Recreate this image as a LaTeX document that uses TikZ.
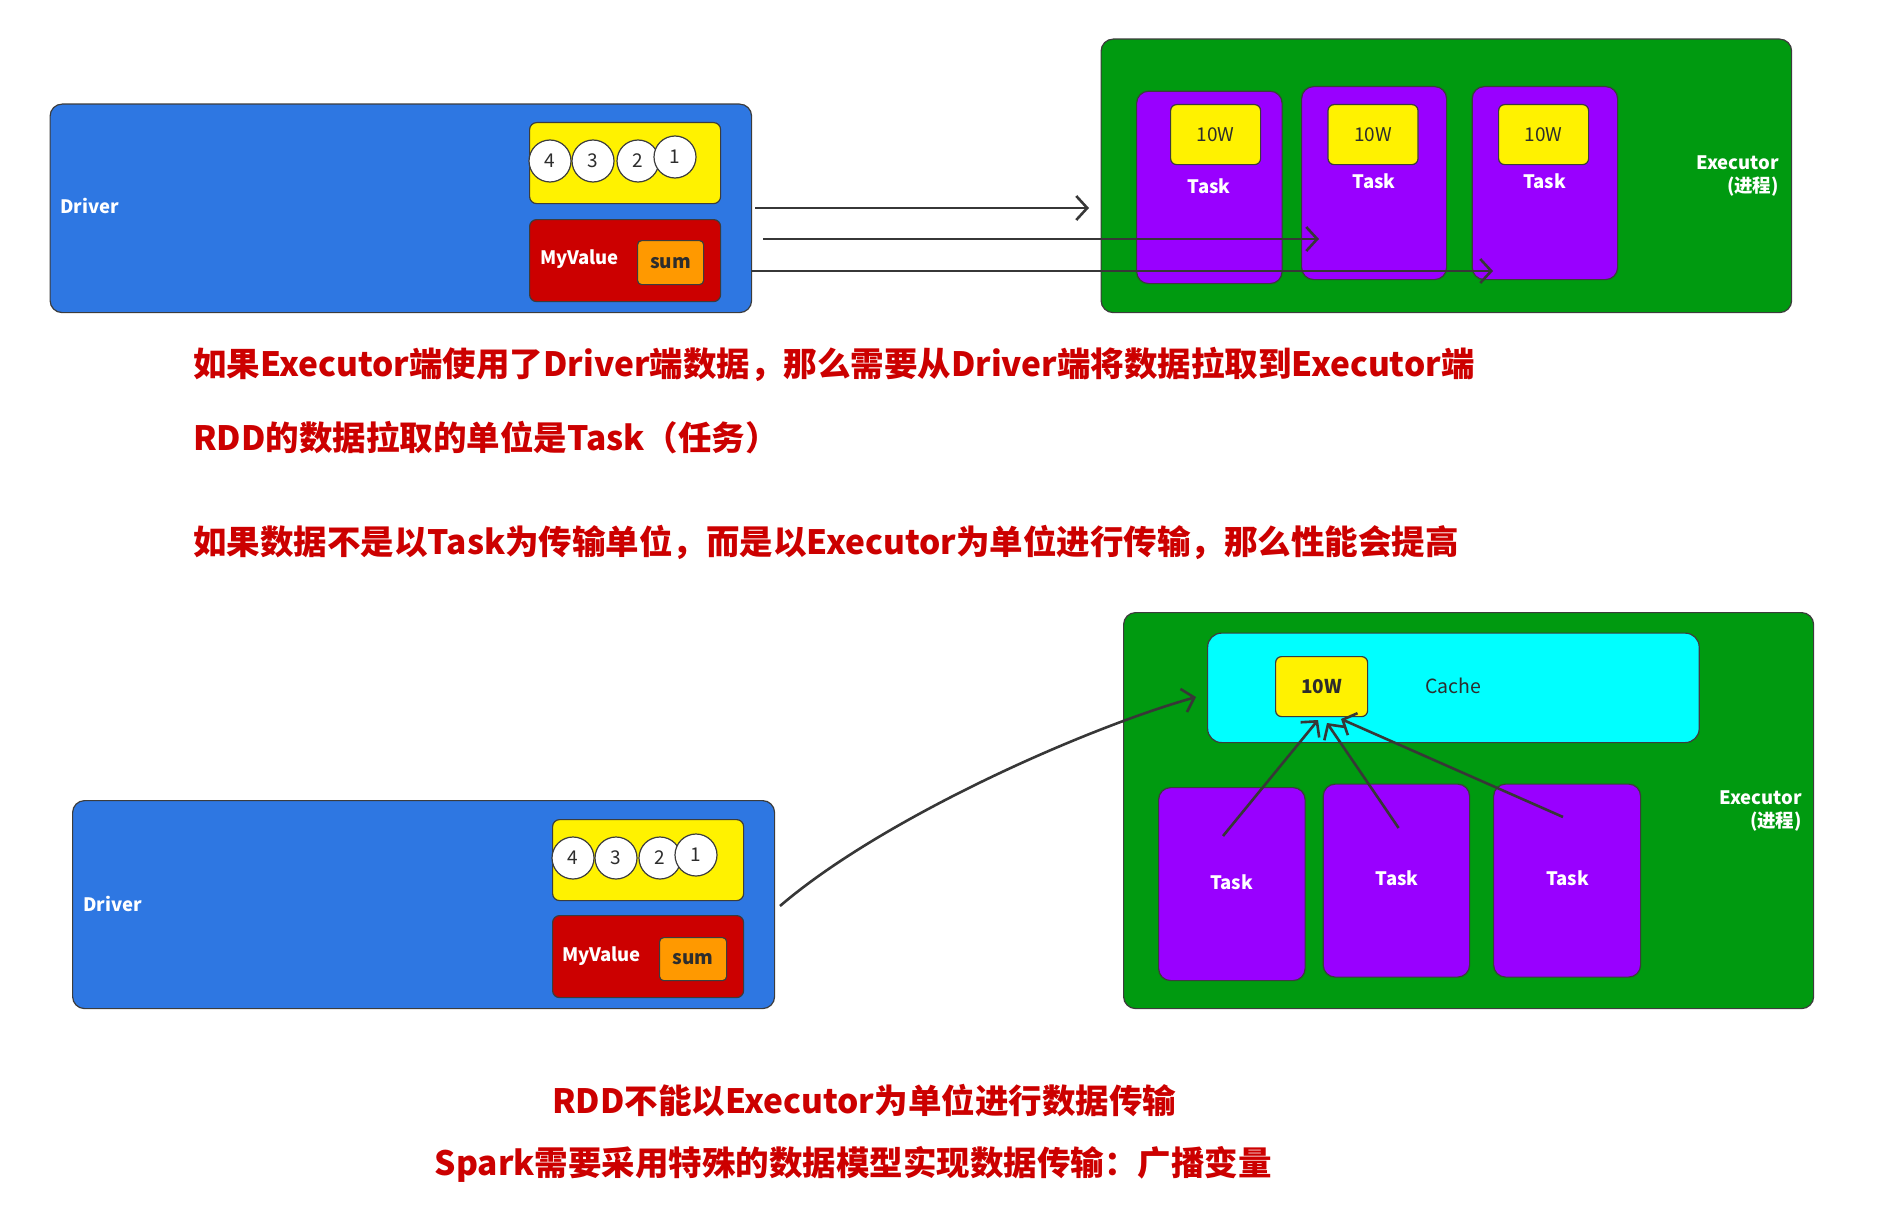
\documentclass[tikz,border=0pt]{standalone}
\usepackage{fontspec}
\setmainfont{Noto Sans CJK SC}
\usetikzlibrary{arrows.meta}
\definecolor{driverblue}{RGB}{46,119,226}
\definecolor{bordergray}{RGB}{60,60,60}
\definecolor{exgreen}{RGB}{0,154,16}
\definecolor{taskpurple}{RGB}{153,0,255}
\definecolor{cacheblue}{RGB}{0,255,255}
\definecolor{sumorange}{RGB}{255,153,0}
\definecolor{myred}{RGB}{204,0,0}
\definecolor{arrowgray}{RGB}{55,55,55}
\definecolor{txtdark}{RGB}{45,45,45}
\begin{document}
\begin{tikzpicture}[x=1pt,y=-1pt,
  box/.style={draw=bordergray, line width=1.2pt, rounded corners=12pt, anchor=north west, inner sep=0pt},
  smallbox/.style={box, rounded corners=7pt},
  wlbl/.style={font=\bfseries\fontsize{18.5}{23}\selectfont, text=white, inner sep=0pt},
  dlbl/.style={font=\fontsize{19}{22}\selectfont, text=txtdark, inner sep=0pt},
  num/.style={circle, draw=bordergray, line width=1.2pt, fill=white, minimum size=42pt, inner sep=0pt, font=\fontsize{19}{22}\selectfont, text=txtdark},
  maintext/.style={font=\bfseries\fontsize{33.5}{40}\selectfont, text=myred, inner sep=0pt, anchor=west},
  conn/.style={draw=arrowgray, line width=2.6pt, -{Straight Barb[length=11pt,width=24pt]}}
]
\useasboundingbox (0,0) rectangle (1892,1220);

% ---------- top part ----------
\node[box, fill=driverblue, minimum width=701.5pt, minimum height=208.5pt] (drv1) at (49.5,103.5) {};
\node[wlbl, anchor=west] (drvl1) at (60,206) {Driver};
\node[smallbox, fill=yellow, minimum width=191pt, minimum height=81pt] (yel1) at (529,122) {};
\node[num] (c14) at (550,161) {4};
\node[num] (c13) at (593,161) {3};
\node[num] (c12) at (638,161) {2};
\node[num] (c11) at (675,157) {1};
\node[smallbox, fill=myred, minimum width=191pt, minimum height=82pt] (red1) at (529,219) {};
\node[wlbl, anchor=west] (mv1) at (540,259) {MyValue};
\node[box, rounded corners=4pt, fill=sumorange, minimum width=66pt, minimum height=44pt, font=\bfseries\fontsize{19}{22}\selectfont, text=txtdark] (sum1) at (637,240) {sum};

\node[box, fill=exgreen, minimum width=690.5pt, minimum height=273.5pt] (exe1) at (1100.5,38.5) {};
\node[wlbl, anchor=east, align=right] (exl1) at (1779,176) {Executor\\(进程)};
\node[box, fill=taskpurple, minimum width=145.5pt, minimum height=192.4pt] (t11) at (1136,90.6) {};
\node[box, fill=taskpurple, minimum width=145pt, minimum height=193pt] (t12) at (1301,86) {};
\node[box, fill=taskpurple, minimum width=145.4pt, minimum height=193pt] (t13) at (1471.6,86) {};
\node[smallbox, rounded corners=6pt, fill=yellow, minimum width=90pt, minimum height=60pt, dlbl] (w11) at (1170,104) {10W};
\node[smallbox, rounded corners=6pt, fill=yellow, minimum width=90pt, minimum height=60pt, dlbl] (w12) at (1327.4,104) {10W};
\node[smallbox, rounded corners=6pt, fill=yellow, minimum width=90pt, minimum height=60pt, dlbl] (w13) at (1498,104) {10W};
\node[wlbl] (tl11) at (1209,186) {Task};
\node[wlbl] (tl12) at (1374,181) {Task};
\node[wlbl] (tl13) at (1544.6,181) {Task};

\coordinate (a1s) at (755,208);
\coordinate (a1e) at (1089,208);
\coordinate (a2s) at (763,239);
\coordinate (a2e) at (1319,239);
\coordinate (a3s) at (751,271);
\coordinate (a3e) at (1493,271);
\draw[conn] (a1s) -- (a1e);
\draw[conn] (a2s) -- (a2e);
\draw[conn] (a3s) -- (a3e);

% ---------- texts ----------
\node[maintext] (txt1) at (193,364) {如果Executor端使用了Driver端数据，那么需要从Driver端将数据拉取到Executor端};
\node[maintext] (txt2) at (193,437.5) {RDD的数据拉取的单位是Task（任务）};
\node[maintext] (txt3) at (193,542.6) {如果数据不是以Task为传输单位，而是以Executor为单位进行传输，那么性能会提高};

% ---------- bottom part ----------
\node[box, fill=driverblue, minimum width=702pt, minimum height=208pt] (drv2) at (72,800) {};
\node[wlbl, anchor=west] (drvl2) at (83,904) {Driver};
\node[smallbox, fill=yellow, minimum width=191pt, minimum height=81pt] (yel2) at (552,819) {};
\node[num] (c24) at (573,858) {4};
\node[num] (c23) at (616,858) {3};
\node[num] (c22) at (660,858) {2};
\node[num] (c21) at (696,855) {1};
\node[smallbox, fill=myred, minimum width=191pt, minimum height=82pt] (red2) at (552,915) {};
\node[wlbl, anchor=west] (mv2) at (562,956) {MyValue};
\node[box, rounded corners=4pt, fill=sumorange, minimum width=67pt, minimum height=43pt, font=\bfseries\fontsize{19}{22}\selectfont, text=txtdark] (sum2) at (659,937) {sum};

\node[box, fill=exgreen, minimum width=690pt, minimum height=396pt] (exe2) at (1123,612) {};
\node[box, rounded corners=14pt, fill=cacheblue, minimum width=491.6pt, minimum height=109.5pt] (cache) at (1207,632.5) {};
\node[smallbox, rounded corners=6pt, fill=yellow, minimum width=92pt, minimum height=60pt, font=\bfseries\fontsize{19}{22}\selectfont, text=txtdark] (w2) at (1275,656) {10W};
\node[dlbl, font=\fontsize{19.5}{22}\selectfont] (cachel) at (1453.5,686) {Cache};
\node[wlbl, anchor=east, align=right] (exl2) at (1802,811) {Executor\\(进程)};
\node[box, fill=taskpurple, minimum width=146.5pt, minimum height=193pt] (t21) at (1158,787) {};
\node[box, fill=taskpurple, minimum width=146.4pt, minimum height=193pt] (t22) at (1322.6,783.5) {};
\node[box, fill=taskpurple, minimum width=147pt, minimum height=193pt] (t23) at (1493,783.5) {};
\node[wlbl] (tl21) at (1231.5,882) {Task};
\node[wlbl] (tl22) at (1397,878) {Task};
\node[wlbl] (tl23) at (1567.6,878) {Task};

\coordinate (b1s) at (1223,836);
\coordinate (b1e) at (1318,720);
\coordinate (b2s) at (1398.6,828);
\coordinate (b2e) at (1327,723);
\coordinate (b3s) at (1563,817);
\coordinate (b3e) at (1341,719);
\draw[conn] (b1s) -- (b1e);
\draw[conn] (b2s) -- (b2e);
\draw[conn] (b3s) -- (b3e);

\coordinate (cs) at (780,906);
\coordinate (ce) at (1196,697);
\draw[conn] (cs) .. controls (880,820) and (1080,730) .. (ce);

\node[maintext] (txt4) at (552,1101) {RDD不能以Executor为单位进行数据传输};
\node[maintext] (txt5) at (434.5,1164) {Spark需要采用特殊的数据模型实现数据传输：广播变量};
\end{tikzpicture}
\end{document}
